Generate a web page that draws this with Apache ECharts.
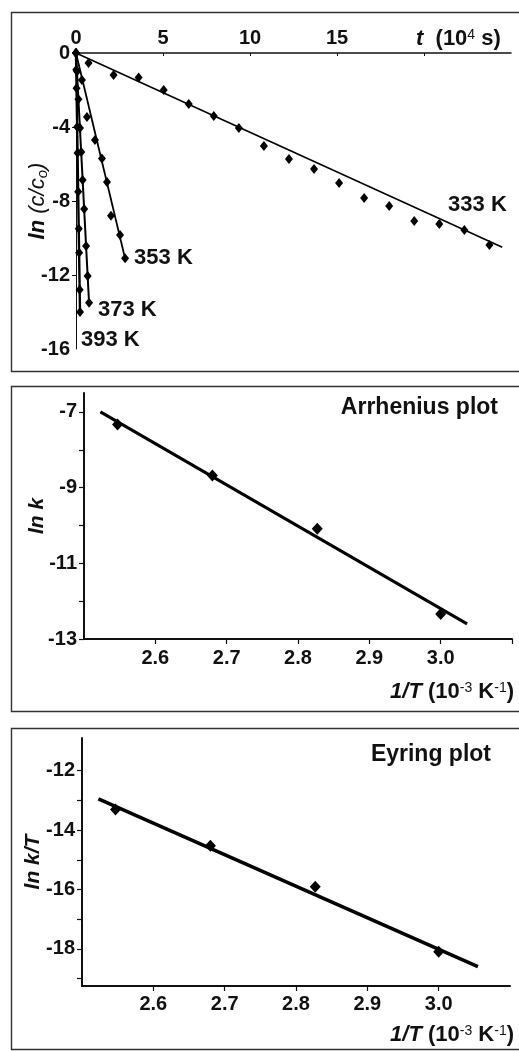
<!DOCTYPE html>
<html>
<head>
<meta charset="utf-8">
<script src="https://cdn.jsdelivr.net/npm/echarts@6/dist/echarts.min.js"></script>
<style>
  html, body { margin: 0; padding: 0; background: #fff; }
  #chart { width: 519px; height: 1051px; }
</style>
</head>
<body>
<div id="chart"></div>
<script>
// ---- panel 1: ln(c/c0) vs t (10^4 s) ----
const t333 = [0, 0.72, 2.16, 3.6, 5.04, 6.48, 7.92, 9.36, 10.8, 12.24, 13.68, 15.12, 16.56, 18.0, 19.44, 20.88, 22.32, 23.76];
const ln333 = [0, -0.54, -1.19, -1.32, -2.0, -2.76, -3.41, -4.05, -5.03, -5.73, -6.27, -7.03, -7.84, -8.27, -9.08, -9.24, -9.57, -10.38];
const t353 = [0, 0.34, 0.63, 1.09, 1.49, 1.78, 2.01, 2.53, 2.82];
const ln353 = [0, -1.46, -3.46, -4.7, -5.7, -6.97, -8.8, -9.84, -11.1];
const t373 = [0, 0.06, 0.14, 0.23, 0.3, 0.38, 0.47, 0.58, 0.67, 0.75];
const ln373 = [0, -1.0, -2.5, -4.05, -5.35, -6.86, -8.43, -10.43, -12.05, -13.5];
const t393 = [0, 0.015, 0.03, 0.067, 0.09, 0.125, 0.16, 0.18, 0.21, 0.23];
const ln393 = [0, -0.9, -1.9, -4.0, -5.4, -7.5, -9.5, -10.8, -12.8, -14.0];
const fit333 = [[0, 0], [24.5, -10.5]];
const fit353 = [[0, 0], [2.82, -11.1]];
const fit373 = [[0, 0], [0.75, -13.5]];
const fit393 = [[0, 0], [0.23, -14.0]];
const tempLabels = ['333 K', '353 K', '373 K', '393 K'];
const tTickValues = [0, 5, 10, 15, 20];
const tLabelValues = [0, 5, 10, 15];
const lnTickValues = [0, -4, -8, -12, -16];

// ---- panel 2: Arrhenius ----
const invT = [2.547, 2.680, 2.827, 3.000];
const lnk = [-7.33, -8.68, -10.09, -12.34];
const fitArr = [[2.523, -7.0], [3.037, -12.6]];
const invTTicks2 = [2.6, 2.7, 2.8, 2.9, 3.0, 3.1];
const invTLabels = [2.6, 2.7, 2.8, 2.9, 3.0];
const lnkTicks = [-13, -12, -11, -10, -9, -8, -7];
const lnkLabels = [-13, -11, -9, -7];

// ---- panel 3: Eyring ----
const lnkT = [-13.31, -14.53, -15.91, -18.10];
const fitEy = [[2.523, -12.95], [3.055, -18.6]];
const invTTicks3 = [2.6, 2.7, 2.8, 2.9, 3.0];
const lnkTTicks = [-19, -18, -17, -16, -15, -14, -13, -12];
const lnkTLabels = [-18, -16, -14, -12];

const FONT = 'Liberation Sans, Arial, sans-serif';
const INK = '#111';

const chart = echarts.init(document.getElementById('chart'));

function zip(xs, ys) { return xs.map((x, i) => [x, ys[i]]); }

const seriesLabel = { fontSize: 22, fontWeight: 'bold', color: INK, fontFamily: FONT };

// scatter data with a text label on its last point
function withEndLabel(pts, text, position, offset) {
  return pts.map((p, i) => i < pts.length - 1 ? p : {
    value: p,
    label: Object.assign({ show: true, formatter: text, position: position, offset: offset }, seriesLabel)
  });
}

const tickLabel = { fontSize: 20, fontWeight: 'bold', color: INK, fontFamily: FONT };

function scatter(idx, data, size) {
  return {
    type: 'scatter', xAxisIndex: idx, yAxisIndex: idx, data: data,
    symbol: 'diamond', symbolSize: size, itemStyle: { color: '#000', opacity: 1 },
    label: seriesLabel,
    z: 3
  };
}
function fitLine(idx, data, w) {
  return {
    type: 'line', xAxisIndex: idx, yAxisIndex: idx, data: data,
    symbol: 'none', lineStyle: { color: '#000', width: w }, z: 2
  };
}

const supStyle = { fontSize: 14, fill: INK, fontFamily: FONT, verticalAlign: 'top', padding: [0, 0, 8, 0] };
const unitRich = {
  i: { fontSize: 22, fontStyle: 'italic', fontWeight: 'bold', fill: INK, fontFamily: FONT },
  sup: supStyle
};

const option = {
  animation: false,
  backgroundColor: '#fff',
  grid: [
    { left: 76, top: 53, width: 435, height: 296 },
    { left: 84, top: 393, width: 428, height: 246 },
    { left: 82, top: 738, width: 428, height: 248 }
  ],
  xAxis: [
    {
      gridIndex: 0, type: 'value', position: 'top', min: 0, max: 25,
      axisLine: { onZero: false, lineStyle: { color: INK, width: 1.5 } },
      axisTick: { inside: true, length: 3, customValues: tTickValues, lineStyle: { color: INK } },
      axisLabel: Object.assign({ customValues: tLabelValues, margin: 5 }, tickLabel),
      splitLine: { show: false }
    },
    {
      gridIndex: 1, type: 'value', min: 2.5, max: 3.1,
      axisLine: { onZero: false, lineStyle: { color: INK, width: 2 } },
      axisTick: { length: 5, customValues: invTTicks2, lineStyle: { color: INK, width: 1.2 } },
      axisLabel: Object.assign({ customValues: invTLabels, margin: 9, formatter: v => v.toFixed(1) }, tickLabel),
      splitLine: { show: false }
    },
    {
      gridIndex: 2, type: 'value', min: 2.5, max: 3.1,
      axisLine: { onZero: false, lineStyle: { color: INK, width: 2 } },
      axisTick: { length: 5, customValues: invTTicks3, lineStyle: { color: INK, width: 1.2 } },
      axisLabel: Object.assign({ customValues: invTLabels, margin: 8, formatter: v => v.toFixed(1) }, tickLabel),
      splitLine: { show: false }
    }
  ],
  yAxis: [
    {
      gridIndex: 0, type: 'value', min: -16, max: 0,
      axisLine: { onZero: false, lineStyle: { color: INK, width: 1 } },
      axisTick: { length: 4, customValues: [-4, -8, -12], lineStyle: { color: INK } },
      axisLabel: Object.assign({ customValues: lnTickValues, margin: 6 }, tickLabel),
      splitLine: { show: false },
      name: '{i|ln} (c/c{sub|o})', nameLocation: 'middle', nameRotate: 90, nameGap: 26,
      nameMoveOverlap: false,
      nameTextStyle: {
        fontSize: 22, color: INK, fontFamily: FONT, fontStyle: 'italic',
        rich: {
          i: { fontSize: 22, fontStyle: 'italic', fontWeight: 'bold', color: INK, fontFamily: FONT },
          sub: { fontSize: 15, color: INK, fontFamily: FONT, verticalAlign: 'bottom', padding: [9, 0, 0, 0] }
        }
      }
    },
    {
      gridIndex: 1, type: 'value', min: -13, max: -6.5,
      axisLine: { onZero: false, lineStyle: { color: INK, width: 2 } },
      axisTick: { length: 5, customValues: lnkTicks, lineStyle: { color: INK, width: 1.2 } },
      axisLabel: Object.assign({ customValues: lnkLabels, margin: 7 }, tickLabel),
      splitLine: { show: false },
      name: 'ln k', nameLocation: 'middle', nameRotate: 90, nameGap: 36,
      nameMoveOverlap: false,
      nameTextStyle: { fontSize: 21, fontStyle: 'italic', fontWeight: 'bold', color: INK, fontFamily: FONT }
    },
    {
      gridIndex: 2, type: 'value', min: -19.25, max: -10.9,
      axisLine: { onZero: false, lineStyle: { color: INK, width: 2 } },
      axisTick: { length: 5, customValues: lnkTTicks, lineStyle: { color: INK, width: 1.2 } },
      axisLabel: Object.assign({ customValues: lnkTLabels, margin: 7 }, tickLabel),
      splitLine: { show: false },
      name: 'ln k/T', nameLocation: 'middle', nameRotate: 90, nameGap: 38,
      nameMoveOverlap: false,
      nameTextStyle: { fontSize: 21, fontStyle: 'italic', fontWeight: 'bold', color: INK, fontFamily: FONT }
    }
  ],
  series: [
    fitLine(0, fit333, 1.6),
    fitLine(0, fit353, 1.8),
    fitLine(0, fit373, 2),
    fitLine(0, fit393, 2.4),
    scatter(0, withEndLabel(zip(t333, ln333), tempLabels[0], 'top', [-12, -19]), [8, 10]),
    scatter(0, withEndLabel(zip(t353, ln353), tempLabels[1], 'right', [0, 0]), [8, 10]),
    scatter(0, withEndLabel(zip(t373, ln373), tempLabels[2], 'right', [0, 7]), [8, 10]),
    scatter(0, withEndLabel(zip(t393, ln393), tempLabels[3], 'right', [-8, 28]), [8, 10]),
    fitLine(1, fitArr, 3),
    scatter(1, zip(invT, lnk), [11, 12]),
    fitLine(2, fitEy, 3.6),
    scatter(2, zip(invT, lnkT), [11, 12])
  ],
  graphic: [
    { type: 'rect', silent: true, z: -10, shape: { x: 11.5, y: 12.5, width: 512, height: 359 },
      style: { fill: 'none', stroke: '#333', lineWidth: 1.4 } },
    { type: 'rect', silent: true, z: -10, shape: { x: 11.5, y: 386.5, width: 512, height: 325 },
      style: { fill: 'none', stroke: '#333', lineWidth: 1.4 } },
    { type: 'rect', silent: true, z: -10, shape: { x: 11.5, y: 728.5, width: 512, height: 321 },
      style: { fill: 'none', stroke: '#333', lineWidth: 1.4 } },
    { type: 'text', silent: true, x: 416, y: 39,
      style: {
        text: '{i|t}  (10{sup|4} s)', textVerticalAlign: 'middle', fill: INK,
        font: 'bold 22px ' + FONT, rich: unitRich
      } },
    { type: 'text', silent: true, x: 498, y: 408,
      style: { text: 'Arrhenius plot', textAlign: 'right', textVerticalAlign: 'middle', fill: INK,
        font: 'bold 23px ' + FONT } },
    { type: 'text', silent: true, x: 491, y: 755,
      style: { text: 'Eyring plot', textAlign: 'right', textVerticalAlign: 'middle', fill: INK,
        font: 'bold 23px ' + FONT } },
    { type: 'text', silent: true, x: 514, y: 692,
      style: {
        text: '{i|1/T} (10{sup|-3} K{sup|-1})', textAlign: 'right', textVerticalAlign: 'middle', fill: INK,
        font: 'bold 22px ' + FONT, rich: unitRich
      } },
    { type: 'text', silent: true, x: 514, y: 1035,
      style: {
        text: '{i|1/T} (10{sup|-3} K{sup|-1})', textAlign: 'right', textVerticalAlign: 'middle', fill: INK,
        font: 'bold 22px ' + FONT, rich: unitRich
      } }
  ]
};

chart.setOption(option);
</script>
</body>
</html>
